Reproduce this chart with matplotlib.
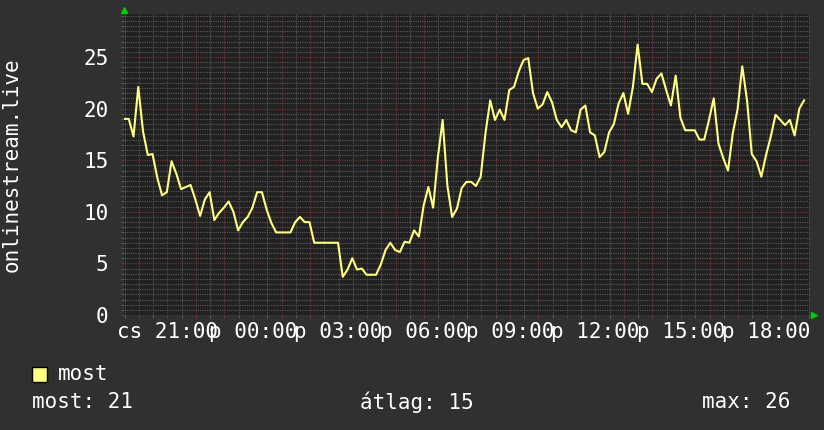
import numpy as np
import matplotlib.pyplot as plt
from matplotlib.lines import Line2D
from matplotlib.patches import Rectangle
from matplotlib.ticker import MultipleLocator, FixedLocator, FuncFormatter

plt.rcParams['font.family'] = 'DejaVu Sans Mono'

#%%==============================================================================
# Data (10 minute samples)

start_hour = 19.48          # 19:29 on the first day
step_hours = 1.0 / 6.0

viewers = [19.0, 19.0, 17.3, 22.1, 17.8, 15.5, 15.6, 13.3, 11.6, 11.9,
           14.9, 13.7, 12.2, 12.4, 12.6, 11.2, 9.6, 11.2, 11.9, 9.2,
           9.9, 10.4, 11.0, 10.0, 8.2, 9.0, 9.5, 10.4, 11.9, 11.9,
           10.2, 8.9, 8.0, 8.0, 8.0, 8.0, 9.0, 9.5, 9.0, 9.0,
           7.0, 7.0, 7.0, 7.0, 7.0, 7.0, 3.7, 4.4, 5.5, 4.4,
           4.5, 3.9, 3.9, 3.9, 4.9, 6.3, 7.0, 6.3, 6.1, 7.1,
           7.0, 8.2, 7.6, 10.6, 12.4, 10.4, 15.3, 18.9, 12.5, 9.5,
           10.3, 12.3, 12.9, 12.9, 12.5, 13.4, 17.6, 20.8, 18.9, 19.9,
           18.9, 21.8, 22.1, 23.6, 24.7, 24.9, 21.5, 20.0, 20.4, 21.6,
           20.6, 18.9, 18.2, 18.9, 17.9, 17.7, 19.9, 20.3, 17.7, 17.4,
           15.3, 15.8, 17.7, 18.5, 20.5, 21.5, 19.5, 22.1, 26.2, 22.4,
           22.4, 21.6, 22.9, 23.4, 21.8, 20.3, 23.2, 19.1, 17.9, 17.9,
           17.9, 17.0, 17.0, 18.9, 21.0, 16.6, 15.2, 14.0, 17.6, 19.9,
           24.1, 20.8, 15.6, 14.9, 13.4, 15.5, 17.3, 19.4, 18.9, 18.4,
           18.9, 17.4, 20.0, 20.8]

tick_hours = [21, 24, 27, 30, 33, 36, 39, 42]
tick_labels = ['cs 21:00', 'p 00:00', 'p 03:00', 'p 06:00',
               'p 09:00', 'p 12:00', 'p 15:00', 'p 18:00']

series_name = 'most'
stat_names = ['most', 'átlag', 'max']
stat_values = [21, 15, 26]

hours = start_hour + step_hours * np.arange(len(viewers))

#%%==============================================================================
# Figure

W, H = 824, 430
bg = '#303030'
canvas = '#212121'
minor_c = '#585858'
major_c = '#703636'
fg = '#ffffff'
line_c = '#ffff80'

fig = plt.figure(figsize=(W / 100, H / 100), dpi=100, facecolor=bg)
ax = fig.add_axes([124 / W, 115 / H, 686 / W, 300.5 / H])
ax.set_facecolor(canvas)

ax.set_xlim(start_hour, start_hour + 24.04)
ax.set_ylim(0, 300.5 / 10.32)

# grid
ax.xaxis.set_minor_locator(MultipleLocator(0.5))
ax.xaxis.set_major_locator(FixedLocator(np.arange(20, 44)))
lab = dict(zip(tick_hours, tick_labels))
ax.xaxis.set_major_formatter(FuncFormatter(lambda v, p: lab.get(int(round(v)), '')))
ax.yaxis.set_minor_locator(MultipleLocator(0.5))
ax.yaxis.set_major_locator(MultipleLocator(5))

dots = (0, (1, 1))
ax.grid(which='minor', color=minor_c, linestyle=dots, linewidth=0.8)
ax.grid(which='major', color=major_c, linestyle=dots, linewidth=0.8)
ax.set_axisbelow(True)

ax.tick_params(which='both', direction='out', length=2.2, width=0.8)
ax.tick_params(which='minor', color=minor_c)
ax.tick_params(which='major', color=major_c, labelcolor=fg, labelsize=15)
ax.tick_params(axis='x', which='major', pad=3)
ax.tick_params(axis='y', which='major', pad=9)
for s in ax.spines.values():
    s.set_visible(False)

ax.plot(hours, viewers, color=line_c, lw=1.5, zorder=3)

# axis arrows
fig.add_artist(Line2D([124.5 / W], [1 - 10 / H], marker='^', markersize=5,
                      color='#00cc00', transform=fig.transFigure))
fig.add_artist(Line2D([813.5 / W], [1 - 315 / H], marker='>', markersize=5,
                      color='#00cc00', transform=fig.transFigure))

fig.text(12 / W, 1 - 165 / H, 'onlinestream.live', rotation=90, color=fg,
         fontsize=15, ha='center', va='center')

#%%==============================================================================
# Legend

fig.add_artist(Rectangle((32 / W, 1 - 382 / H), 15 / W, 15 / H, facecolor=line_c,
                         edgecolor='black', linewidth=1, transform=fig.transFigure))
fig.text(58 / W, 1 - 374 / H, series_name, color=fg, fontsize=15, va='center')

stat_x = [32, 360, 702]
for x, n, v in zip(stat_x, stat_names, stat_values):
    fig.text(x / W, 1 - 402 / H, '%s: %d' % (n, v), color=fg, fontsize=15, va='center')

fig.savefig('out.png', dpi=100, facecolor=bg)
